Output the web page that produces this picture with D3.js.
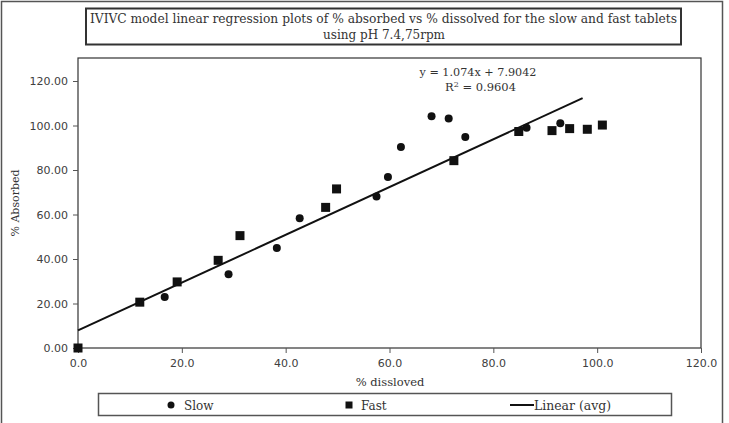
<!DOCTYPE html>
<html>
<head>
<meta charset="utf-8">
<script src="https://cdn.jsdelivr.net/npm/d3@7"></script>
<style>
  body { margin: 0; background: #fff; }
  .tick text { font-family: "DejaVu Sans", Verdana, sans-serif; font-size: 11px; fill: #404040; }
  .serif { font-family: "DejaVu Serif", "Liberation Serif", serif; fill: #333; }
</style>
</head>
<body>
<div id="graf"></div>
<script>
// % dissolved vs % absorbed
const slowX = [0, 16.7, 29.0, 38.3, 42.7, 57.5, 59.7, 62.2, 68.1, 71.4, 74.6, 86.4, 92.9]
const slowY = [0, 22.9, 33.2, 44.9, 58.3, 68.1, 76.8, 90.3, 104.2, 103.2, 94.8, 99.0, 101.0]
const fastX = [0, 11.9, 19.1, 27.0, 31.2, 47.7, 49.8, 72.4, 84.9, 91.3, 94.7, 98.1, 101.0]
const fastY = [0, 20.6, 29.7, 39.4, 50.5, 63.2, 71.5, 84.2, 97.3, 97.7, 98.6, 98.3, 100.2]
const slope = 1.074
const intercept = 7.9042
const fitRange = [0, 97.2]
const xTicks = [0, 20, 40, 60, 80, 100, 120]
const yTicks = [0, 20, 40, 60, 80, 100, 120]

const W = 729, H = 423
const svg = d3.select("#graf").append("svg").attr("width", W).attr("height", H)

// outer frame
svg.append("path")
  .attr("d", `M1.5,${H} V1.5 H722.5 V${H}`)
  .attr("fill", "none").attr("stroke", "#555").attr("stroke-width", 1.5)

// title box
svg.append("rect").attr("x", 86).attr("y", 8.5).attr("width", 595).attr("height", 36)
  .attr("fill", "#fff").attr("stroke", "#333").attr("stroke-width", 2)
svg.append("text").attr("class", "serif").attr("x", 383.5).attr("y", 23)
  .attr("text-anchor", "middle").attr("font-size", 12)
  .attr("textLength", 587).attr("lengthAdjust", "spacingAndGlyphs")
  .text("IVIVC model linear regression plots of % absorbed vs % dissolved for the slow and fast tablets")
svg.append("text").attr("class", "serif").attr("x", 384).attr("y", 38.5)
  .attr("text-anchor", "middle").attr("font-size", 12)
  .attr("textLength", 122).attr("lengthAdjust", "spacingAndGlyphs")
  .text("using pH 7.4,75rpm")

const x = d3.scaleLinear().domain([0, 120]).range([78, 701])
const y = d3.scaleLinear().domain([0, 120]).range([348, 81])
const plotTop = 58

// plot box
svg.append("rect").attr("x", x(0)).attr("y", plotTop)
  .attr("width", x(120) - x(0)).attr("height", y(0) - plotTop)
  .attr("fill", "none").attr("stroke", "#333").attr("stroke-width", 1.2)

const xAxis = svg.append("g").attr("transform", `translate(0,${y(0)})`)
  .call(d3.axisBottom(x).tickValues(xTicks).tickFormat(d3.format(".1f")).tickSize(5).tickPadding(6))
const yAxis = svg.append("g").attr("transform", `translate(${x(0)},0)`)
  .call(d3.axisLeft(y).tickValues(yTicks).tickFormat(d3.format(".2f")).tickSize(5).tickPadding(5))
xAxis.select(".domain").remove()
yAxis.select(".domain").remove()
svg.selectAll(".tick line").attr("stroke", "#555")

// axis titles
svg.append("text").attr("class", "serif").attr("x", 390).attr("y", 386)
  .attr("text-anchor", "middle").attr("font-size", 11.5).text("% dissloved")
svg.append("text").attr("class", "serif")
  .attr("transform", `translate(19,203) rotate(-90)`)
  .attr("text-anchor", "middle").attr("font-size", 11).text("% Absorbed")

// regression line
svg.append("line")
  .attr("x1", x(fitRange[0])).attr("y1", y(slope * fitRange[0] + intercept))
  .attr("x2", x(fitRange[1])).attr("y2", y(slope * fitRange[1] + intercept))
  .attr("stroke", "#111").attr("stroke-width", 2)

// equation
svg.append("text").attr("class", "serif").attr("font-size", 11.5).attr("text-anchor", "middle")
  .attr("x", 478).attr("y", 76).attr("textLength", 117).attr("lengthAdjust", "spacingAndGlyphs")
  .text(`y = ${slope}x + ${intercept}`)
const r2 = svg.append("text").attr("class", "serif").attr("font-size", 11.5)
  .attr("x", 445).attr("y", 91)
r2.append("tspan").text("R")
r2.append("tspan").attr("dy", -4).attr("font-size", 8).text("2")
r2.append("tspan").attr("dy", 4).text(" = 0.9604")

// points
const slow = slowX.map((d, i) => ({ x: d, y: slowY[i] }))
const fast = fastX.map((d, i) => ({ x: d, y: fastY[i] }))

svg.selectAll("circle.slow").data(slow).enter().append("circle")
  .attr("class", "slow")
  .attr("cx", (d) => x(d.x)).attr("cy", (d) => y(d.y)).attr("r", 4)
  .attr("fill", "#111")

svg.selectAll("rect.fast").data(fast).enter().append("rect")
  .attr("class", "fast")
  .attr("x", (d) => x(d.x) - 4.5).attr("y", (d) => y(d.y) - 4.5)
  .attr("width", 9).attr("height", 9)
  .attr("fill", "#111")

// legend
svg.append("rect").attr("x", 98.5).attr("y", 393.5).attr("width", 573).attr("height", 22)
  .attr("fill", "#fff").attr("stroke", "#555").attr("stroke-width", 1.5)
svg.append("circle").attr("cx", 171).attr("cy", 405).attr("r", 3.5).attr("fill", "#111")
svg.append("text").attr("class", "serif").attr("x", 184).attr("y", 409.5).attr("font-size", 12).text("Slow")
svg.append("rect").attr("x", 345.5).attr("y", 401.5).attr("width", 7).attr("height", 7).attr("fill", "#111")
svg.append("text").attr("class", "serif").attr("x", 361).attr("y", 409.5).attr("font-size", 12).text("Fast")
svg.append("line").attr("x1", 510).attr("x2", 534).attr("y1", 405).attr("y2", 405)
  .attr("stroke", "#111").attr("stroke-width", 2)
svg.append("text").attr("class", "serif").attr("x", 534).attr("y", 409.5).attr("font-size", 12)
  .attr("textLength", 77).attr("lengthAdjust", "spacingAndGlyphs").text("Linear (avg)")
</script>
</body>
</html>
